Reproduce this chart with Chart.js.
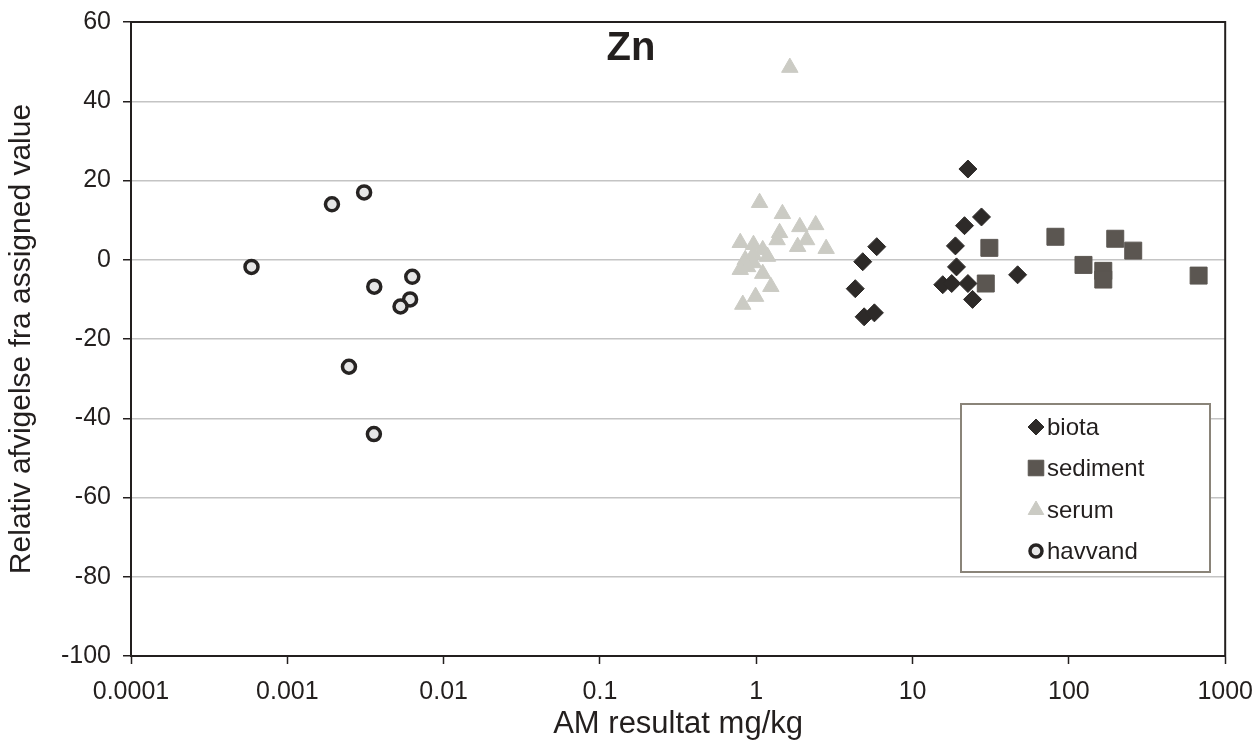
<!DOCTYPE html>
<html>
<head>
<meta charset="utf-8">
<script src="https://cdn.jsdelivr.net/npm/chart.js@4"></script>
<style>
  html, body { margin: 0; padding: 0; background: #fff; }
  #wrap { width: 1260px; height: 749px; position: relative; }
</style>
</head>
<body>
<div id="wrap"><canvas id="c" width="1260" height="749"></canvas></div>
<script>
// tick values
const xTicks = [0.0001, 0.001, 0.01, 0.1, 1, 10, 100, 1000];
const xTickLabels = ["0.0001", "0.001", "0.01", "0.1", "1", "10", "100", "1000"];
const yTicks = [-100, -80, -60, -40, -20, 0, 20, 40, 60];

// biota
const biotaX = [5.9, 4.8, 4.3, 4.9, 5.7, 22.6, 27.6, 21.5, 18.8, 19.1, 15.6, 17.8, 22.6, 24.2, 47];
const biotaY = [3.3, -0.5, -7.3, -14.4, -13.4, 22.9, 10.8, 8.6, 3.5, -1.8, -6.3, -6, -6, -10, -3.8];

// sediment
const sedX = [31, 29.4, 82, 198, 258, 124, 166, 166, 676];
const sedY = [3, -6, 5.8, 5.3, 2.3, -1.3, -2.8, -5, -4];

// serum
const serumX = [1.64, 1.05, 1.47, 1.9, 2.4, 0.79, 0.96, 1.41, 1.36, 1.84, 2.1, 2.8, 1.1, 0.96, 0.85, 0.96, 0.79, 1.1, 1.24, 0.99, 0.82, 1.18, 0.88];
const serumY = [48.5, 14.4, 11.6, 8.3, 8.8, 4.3, 3.8, 6.8, 5, 3.3, 5, 2.8, 2.5, 1.3, 0, -0.8, -2.5, -3.5, -6.8, -9.3, -11.3, 0.8, -1.8];

// havvand
const havX = [0.00059, 0.00193, 0.0031, 0.0036, 0.0063, 0.0061, 0.0053, 0.00248, 0.00358];
const havY = [-1.8, 14, 17, -6.8, -4.3, -10, -11.8, -27, -44];

const pts = (xs, ys) => xs.map((x, i) => ({ x, y: ys[i] }));

const FONT = "'Liberation Sans', Arial, sans-serif";
const INK = "#231f1e";

// plot frame, "Zn" title and the boxed legend inside the plot
const extras = {
  id: "extras",
  beforeDatasetsDraw(chart) {
    const { ctx, chartArea: a } = chart;
    ctx.save();
    ctx.strokeStyle = INK;
    ctx.lineWidth = 2;
    ctx.strokeRect(a.left, a.top, a.right - a.left, a.bottom - a.top);
    ctx.restore();
  },
  afterDraw(chart) {
    const { ctx } = chart;
    ctx.save();
    ctx.fillStyle = INK;
    ctx.font = "bold 40px " + FONT;
    ctx.textAlign = "center";
    ctx.textBaseline = "middle";
    ctx.fillText("Zn", 631, 49);

    const bx = 961, by = 404, bw = 249, bh = 168;
    ctx.fillStyle = "#fff";
    ctx.fillRect(bx, by, bw, bh);
    ctx.strokeStyle = "#8a8479";
    ctx.lineWidth = 2;
    ctx.strokeRect(bx, by, bw, bh);
    ctx.restore();

    const rows = [427, 468, 510, 551];
    chart.data.datasets.forEach((ds, i) => {
      ctx.save();
      ctx.fillStyle = ds.backgroundColor;
      ctx.strokeStyle = ds.borderColor;
      ctx.lineWidth = ds.borderWidth;
      Chart.helpers.drawPoint(ctx, {
        pointStyle: ds.pointStyle,
        radius: ds.legendRadius,
        borderWidth: ds.borderWidth,
      }, 1036, rows[i]);
      ctx.fillStyle = INK;
      ctx.font = "24px " + FONT;
      ctx.textAlign = "left";
      ctx.textBaseline = "middle";
      ctx.fillText(ds.label, 1047, rows[i] + 1);
      ctx.restore();
    });
  }
};

new Chart(document.getElementById("c"), {
  type: "scatter",
  data: {
    datasets: [
      {
        label: "biota", data: pts(biotaX, biotaY),
        pointStyle: "rectRot", pointRadius: 9, legendRadius: 8,
        backgroundColor: "#2d2a28", borderColor: "#2d2a28", borderWidth: 1,
      },
      {
        label: "sediment", data: pts(sedX, sedY),
        pointStyle: "rect", pointRadius: 12, legendRadius: 11,
        backgroundColor: "#5b5651", borderColor: "#5b5651", borderWidth: 1,
      },
      {
        label: "serum", data: pts(serumX, serumY),
        pointStyle: "triangle", pointRadius: 9.5, legendRadius: 9,
        backgroundColor: "#cbcbc4", borderColor: "#cbcbc4", borderWidth: 1,
      },
      {
        label: "havvand", data: pts(havX, havY),
        pointStyle: "circle", pointRadius: 6.5, legendRadius: 6,
        backgroundColor: "#e6e6e6", borderColor: "#262322", borderWidth: 3.5,
      },
    ],
  },
  options: {
    responsive: false,
    animation: false,
    devicePixelRatio: 1,
    layout: { padding: { top: 22, right: 32, bottom: 0, left: 0 } },
    plugins: { legend: { display: false }, tooltip: { enabled: false } },
    scales: {
      x: {
        type: "logarithmic",
        min: 0.0001,
        max: 1000,
        afterBuildTicks: (s) => { s.ticks = xTicks.map((v) => ({ value: v })); },
        afterFit: (s) => { s.height = 93; },
        ticks: {
          autoSkip: false, maxRotation: 0, padding: 7,
          color: INK, font: { family: FONT, size: 25, lineHeight: 1.7 },
          callback: (v) => xTickLabels[xTicks.indexOf(v)] ?? "",
        },
        grid: { drawOnChartArea: false, color: "transparent", tickColor: INK, tickLength: 8, tickWidth: 1.5 },
        border: { color: INK, width: 2 },
        title: { display: true, text: "AM resultat mg/kg", color: INK, font: { family: FONT, size: 31 }, padding: { top: 0, bottom: 6 } },
      },
      y: {
        min: -100,
        max: 60,
        afterBuildTicks: (s) => { s.ticks = yTicks.map((v) => ({ value: v })); },
        afterFit: (s) => { s.width = 131; },
        ticks: { padding: 12, color: INK, font: { family: FONT, size: 25, lineHeight: 0.7 } },
        grid: { color: "#c4c4c4", lineWidth: 1.5, tickColor: INK, tickLength: 8, tickWidth: 1.5 },
        border: { color: INK, width: 2 },
        title: { display: true, text: "Relativ afvigelse fra assigned value", color: INK, font: { family: FONT, size: 30 }, padding: { top: 4, bottom: 0 } },
      },
    },
  },
  plugins: [extras],
});
</script>
</body>
</html>
